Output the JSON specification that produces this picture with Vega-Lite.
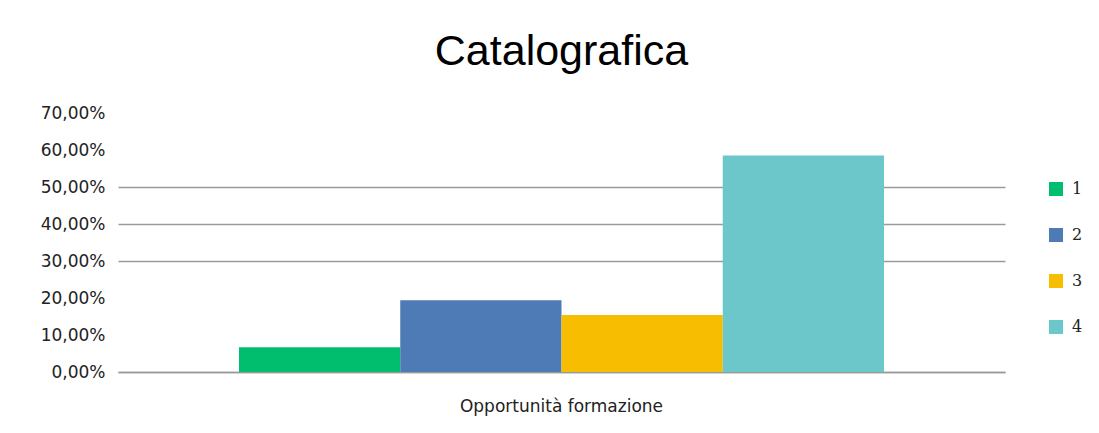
{
  "$schema": "https://vega.github.io/schema/vega-lite/v6.json",
  "autosize": {"type": "none"},
  "padding": {"left": 118, "top": 113, "right": 94, "bottom": 61},
  "width": 887,
  "height": 259,
  "background": "white",
  "title": {
    "text": "Catalografica",
    "font": "Liberation Sans",
    "fontSize": 43,
    "fontWeight": "normal",
    "color": "#000000",
    "baseline": "alphabetic",
    "offset": -4
  },
  "data": {
    "values": [
      {"categoria": "Opportunità  formazione", "serie": "1", "valore": 0.067},
      {"categoria": "Opportunità  formazione", "serie": "2", "valore": 0.194},
      {"categoria": "Opportunità  formazione", "serie": "3", "valore": 0.154},
      {"categoria": "Opportunità  formazione", "serie": "4", "valore": 0.585}
    ]
  },
  "mark": {"type": "bar"},
  "encoding": {
    "x": {
      "field": "categoria",
      "type": "nominal",
      "scale": {"paddingInner": 0, "paddingOuter": 0.1876},
      "axis": {
        "title": null,
        "labelAngle": 0,
        "labelLimit": 0,
        "ticks": false,
        "domain": true,
        "domainColor": "#9a9a9a",
        "domainWidth": 1.5,
        "labelPadding": 26,
        "labelFont": "DejaVu Sans",
        "labelFontSize": 17,
        "labelColor": "#222222"
      }
    },
    "xOffset": {
      "field": "serie",
      "type": "nominal",
      "scale": {"paddingInner": 0, "paddingOuter": 0}
    },
    "y": {
      "field": "valore",
      "type": "quantitative",
      "scale": {"domain": [0, 0.7], "nice": false},
      "axis": {
        "title": null,
        "values": [0, 0.1, 0.2, 0.3, 0.4, 0.5, 0.6, 0.7],
        "labelExpr": "replace(format(datum.value, '.2%'), '.', ',')",
        "domain": false,
        "ticks": false,
        "grid": true,
        "gridColor": "#9a9a9a",
        "gridWidth": 1.5,
        "gridOpacity": {"condition": {"test": "(datum.value > 0.25 && datum.value < 0.55) || datum.value < 0.05", "value": 1}, "value": 0},
        "labelPadding": 13,
        "labelFont": "DejaVu Sans",
        "labelFontSize": 17,
        "labelColor": "#222222"
      }
    },
    "color": {
      "field": "serie",
      "type": "nominal",
      "scale": {"domain": ["1", "2", "3", "4"], "range": ["#00BE6E", "#4E7AB5", "#F7BD00", "#6CC7CB"]},
      "legend": {
        "title": null,
        "orient": "none",
        "legendX": 930,
        "legendY": 68,
        "symbolType": "square",
        "symbolSize": 196,
        "symbolStrokeWidth": 0,
        "rowPadding": 30,
        "labelOffset": 8,
        "labelFont": "DejaVu Serif",
        "labelFontSize": 16,
        "labelColor": "#222222"
      }
    }
  },
  "config": {
    "view": {"stroke": null}
  }
}
